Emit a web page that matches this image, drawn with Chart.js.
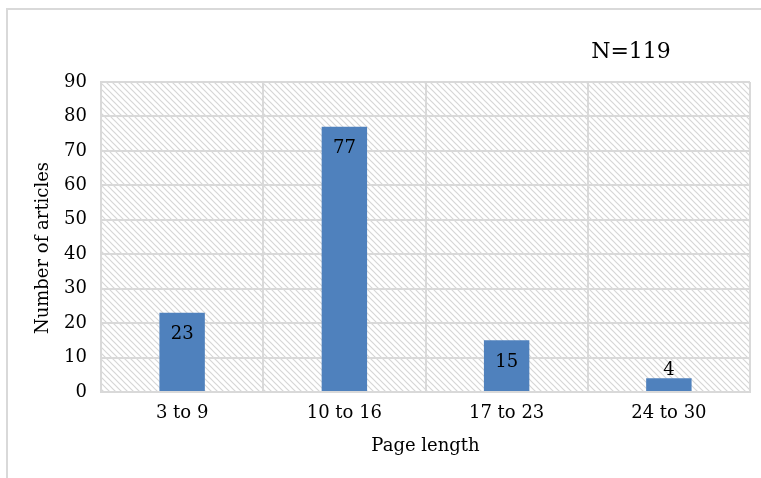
<!DOCTYPE html>
<html>
<head>
<meta charset="utf-8">
<script src="https://cdn.jsdelivr.net/npm/chart.js@4.4.0/dist/chart.umd.min.js"></script>
<style>
  html, body { margin: 0; padding: 0; background: #ffffff; }
  #wrap { width: 761px; height: 478px; position: relative; }
</style>
</head>
<body>
<div id="wrap"><canvas id="chart" width="761" height="478"></canvas></div>
<script>
// Page-length bins and article counts
const categories = ['3 to 9', '10 to 16', '17 to 23', '24 to 30'];
const articleCounts = [23, 77, 15, 4];
const yTicks = [0, 10, 20, 30, 40, 50, 60, 70, 80, 90];
const sampleNote = 'N=119';
const yTitle = 'Number of articles';

const FONT = '"DejaVu Serif", serif';
const GRID = '#d9d9d9';

// Diagonal hatch used behind the bars
function makeHatch(ctx) {
  const c = document.createElement('canvas');
  c.width = 6; c.height = 6;
  const g = c.getContext('2d');
  g.fillStyle = '#ffffff';
  g.fillRect(0, 0, 6, 6);
  g.strokeStyle = '#d6d6d6';
  g.lineWidth = 1.2;
  g.beginPath();
  g.moveTo(-1, -1); g.lineTo(7, 7);
  g.moveTo(-4, 2); g.lineTo(4, 10);
  g.moveTo(2, -4); g.lineTo(10, 4);
  g.stroke();
  return ctx.createPattern(c, 'repeat');
}

const framePlugin = {
  id: 'frame',
  beforeDraw(chart) {
    const ctx = chart.ctx;
    const a = chart.chartArea;
    ctx.save();
    // outer chart frame
    ctx.strokeStyle = '#d9d9d9';
    ctx.lineWidth = 2;
    ctx.strokeRect(7, 9, 800, 520);
    // hatched plot background
    ctx.fillStyle = makeHatch(ctx);
    ctx.fillRect(a.left, a.top, a.right - a.left, a.bottom - a.top);
    ctx.restore();
  },
  afterDraw(chart) {
    const ctx = chart.ctx;
    ctx.save();
    ctx.fillStyle = '#000000';
    ctx.textAlign = 'center';
    ctx.textBaseline = 'middle';
    ctx.font = '22px ' + FONT;
    ctx.fillText(sampleNote, 631, 52);
    // vertical axis title, sitting slightly below the plot's midline
    ctx.font = '18px ' + FONT;
    ctx.translate(43, 248);
    ctx.rotate(-Math.PI / 2);
    ctx.fillText(yTitle, 0, 0);
    ctx.restore();
  }
};

// Value labels: inside the top of tall bars, above short ones
const valueLabels = {
  id: 'valueLabels',
  afterDatasetsDraw(chart) {
    const ctx = chart.ctx;
    const meta = chart.getDatasetMeta(0);
    ctx.save();
    ctx.fillStyle = '#000000';
    ctx.font = '18px ' + FONT;
    ctx.textAlign = 'center';
    ctx.textBaseline = 'middle';
    meta.data.forEach((bar, i) => {
      const h = bar.base - bar.y;
      const y = h > 30 ? bar.y + 22 : bar.y - 8;
      ctx.fillText(String(articleCounts[i]), bar.x, y);
    });
    ctx.restore();
  }
};

new Chart(document.getElementById('chart'), {
  type: 'bar',
  data: {
    labels: categories,
    datasets: [{
      data: articleCounts,
      backgroundColor: '#4f81bd',
      borderWidth: 0,
      categoryPercentage: 1,
      barPercentage: 0.28
    }]
  },
  options: {
    responsive: false,
    animation: false,
    devicePixelRatio: 1,
    layout: { padding: { top: 82, right: 11, left: 0, bottom: 21 } },
    plugins: {
      legend: { display: false },
      tooltip: { enabled: false }
    },
    scales: {
      x: {
        grid: { color: GRID, lineWidth: 2, drawTicks: false, offset: true },
        border: { color: GRID, width: 2 },
        ticks: { color: '#000', font: { family: FONT, size: 18 }, padding: 11 },
        title: {
          display: true, text: 'Page length', color: '#000',
          font: { family: FONT, size: 18 }, padding: { top: 4, bottom: 0 }
        },
        afterFit(s) { s.height = 65; }
      },
      y: {
        min: 0, max: 90,
        afterBuildTicks(s) { s.ticks = yTicks.map(v => ({ value: v })); },
        grid: { color: GRID, lineWidth: 2, drawTicks: false },
        border: { color: GRID, width: 2 },
        ticks: { color: '#000', font: { family: FONT, size: 18 }, padding: 14 },
        afterFit(s) { s.width = 101; }
      }
    }
  },
  plugins: [framePlugin, valueLabels]
});
</script>
</body>
</html>
